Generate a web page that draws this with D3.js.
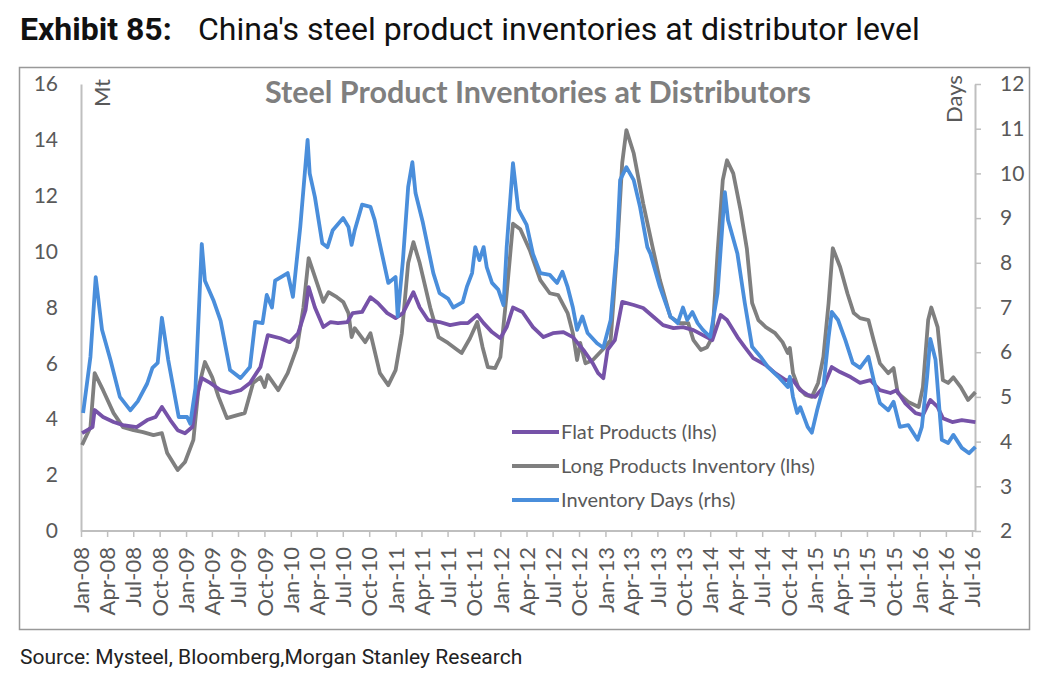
<!DOCTYPE html>
<html>
<head>
<meta charset="utf-8">
<script src="https://cdn.jsdelivr.net/npm/d3@7"></script>
<style>
  body { margin: 0; background: #fff; }
  svg text { font-family: Lato, "Open Sans", sans-serif; }
</style>
</head>
<body>
<svg id="chart" width="1048" height="682"></svg>
<script>
// time points are decimal years
var flatT = [2008.01,2008.11,2008.13,2008.21,2008.31,2008.40,2008.53,2008.63,2008.71,2008.77,2008.85,2008.92,2008.99,2009.06,2009.11,2009.15,2009.23,2009.33,2009.42,2009.52,2009.61,2009.71,2009.78,2009.90,2009.99,2010.07,2010.14,2010.17,2010.23,2010.31,2010.38,2010.45,2010.54,2010.59,2010.68,2010.76,2010.83,2010.92,2011.00,2011.07,2011.17,2011.23,2011.31,2011.42,2011.52,2011.62,2011.69,2011.78,2011.84,2011.92,2012.00,2012.06,2012.12,2012.21,2012.31,2012.41,2012.50,2012.60,2012.69,2012.79,2012.88,2012.93,2012.98,2013.02,2013.09,2013.16,2013.27,2013.36,2013.46,2013.55,2013.65,2013.74,2013.84,2013.93,2014.02,2014.10,2014.16,2014.26,2014.33,2014.41,2014.53,2014.62,2014.72,2014.79,2014.86,2014.93,2015.00,2015.08,2015.16,2015.24,2015.34,2015.43,2015.53,2015.62,2015.72,2015.78,2015.86,2015.96,2016.03,2016.10,2016.17,2016.22,2016.31,2016.40,2016.53];
var flatV = [3.5,3.72,4.33,4.08,3.9,3.79,3.72,3.97,4.08,4.44,3.97,3.61,3.5,3.72,4.94,5.47,5.3,5.04,4.94,5.04,5.3,5.87,7.01,6.9,6.76,7.08,7.9,8.73,8.0,7.3,7.48,7.44,7.48,7.8,7.84,8.37,8.16,7.8,7.62,7.8,8.55,8.0,7.55,7.48,7.37,7.44,7.44,7.73,7.44,7.12,6.9,7.3,8.0,7.84,7.3,6.94,7.08,7.12,6.94,6.48,6.0,5.65,5.47,6.48,6.83,8.2,8.09,7.98,7.66,7.37,7.26,7.3,7.19,7.01,6.83,7.73,7.55,6.94,6.58,6.19,5.94,5.65,5.4,5.4,5.04,4.87,4.8,5.15,5.87,5.69,5.51,5.3,5.4,5.04,4.94,5.04,4.58,4.22,4.15,4.69,4.44,4.04,3.9,3.97,3.9];

var longT = [2008.01,2008.09,2008.13,2008.21,2008.31,2008.40,2008.50,2008.59,2008.69,2008.77,2008.82,2008.92,2008.99,2009.07,2009.12,2009.18,2009.25,2009.31,2009.39,2009.49,2009.56,2009.64,2009.71,2009.75,2009.78,2009.88,2009.97,2010.06,2010.12,2010.17,2010.25,2010.31,2010.36,2010.44,2010.50,2010.55,2010.58,2010.61,2010.71,2010.76,2010.85,2010.93,2011.00,2011.06,2011.12,2011.17,2011.23,2011.33,2011.41,2011.50,2011.59,2011.63,2011.71,2011.78,2011.83,2011.88,2011.95,2012.00,2012.06,2012.12,2012.19,2012.28,2012.38,2012.47,2012.55,2012.64,2012.69,2012.73,2012.76,2012.81,2012.88,2012.97,2013.05,2013.11,2013.16,2013.20,2013.27,2013.36,2013.45,2013.52,2013.62,2013.71,2013.79,2013.84,2013.91,2013.97,2014.02,2014.07,2014.12,2014.16,2014.22,2014.29,2014.35,2014.40,2014.46,2014.53,2014.62,2014.69,2014.74,2014.76,2014.79,2014.84,2014.91,2014.97,2015.03,2015.08,2015.13,2015.17,2015.24,2015.31,2015.37,2015.43,2015.51,2015.56,2015.62,2015.70,2015.75,2015.79,2015.89,2015.99,2016.03,2016.08,2016.11,2016.17,2016.22,2016.27,2016.32,2016.39,2016.46,2016.53];
var longV = [3.08,3.72,5.65,5.04,4.22,3.72,3.61,3.54,3.43,3.5,2.79,2.18,2.47,3.26,5.15,6.05,5.5,4.8,4.04,4.15,4.22,5.3,5.5,5.15,5.58,5.04,5.65,6.58,8.0,9.77,8.87,8.2,8.55,8.37,8.2,7.8,6.94,7.26,6.76,7.08,5.65,5.22,5.76,7.08,9.59,10.34,9.59,8.0,6.94,6.73,6.48,6.37,6.9,7.48,6.58,5.87,5.83,6.23,8.5,11.0,10.8,10.05,8.98,8.51,8.44,7.8,7.08,6.12,6.73,6.0,6.12,6.48,6.83,9.95,13.17,14.35,13.52,11.73,10.16,8.98,7.66,7.44,7.44,6.83,6.48,6.58,6.94,9.95,12.56,13.27,12.8,11.48,10.1,8.16,7.55,7.3,7.08,6.76,6.37,6.55,5.65,5.15,4.87,4.8,5.3,6.23,8.16,10.12,9.45,8.5,7.8,7.62,7.55,6.83,6.0,5.65,5.83,4.94,4.62,4.44,5.15,7.55,8.0,7.3,5.4,5.3,5.5,5.15,4.69,4.97];

var daysT = [2008.02,2008.09,2008.14,2008.20,2008.28,2008.37,2008.47,2008.54,2008.63,2008.68,2008.73,2008.77,2008.83,2008.93,2009.01,2009.04,2009.09,2009.15,2009.18,2009.26,2009.33,2009.42,2009.52,2009.61,2009.66,2009.73,2009.77,2009.82,2009.85,2009.97,2010.02,2010.09,2010.16,2010.18,2010.23,2010.30,2010.35,2010.40,2010.50,2010.55,2010.58,2010.61,2010.68,2010.76,2010.80,2010.87,2010.93,2011.00,2011.02,2011.07,2011.12,2011.16,2011.19,2011.26,2011.36,2011.42,2011.50,2011.55,2011.64,2011.68,2011.73,2011.76,2011.80,2011.84,2011.87,2011.92,2011.98,2012.03,2012.06,2012.12,2012.17,2012.25,2012.31,2012.38,2012.47,2012.54,2012.59,2012.64,2012.69,2012.73,2012.78,2012.83,2012.92,2012.98,2013.05,2013.11,2013.14,2013.20,2013.27,2013.33,2013.40,2013.43,2013.52,2013.62,2013.69,2013.74,2013.78,2013.83,2013.88,2013.93,2014.00,2014.07,2014.12,2014.14,2014.17,2014.26,2014.33,2014.40,2014.48,2014.55,2014.65,2014.74,2014.76,2014.79,2014.83,2014.86,2014.93,2014.97,2015.02,2015.08,2015.13,2015.16,2015.22,2015.29,2015.36,2015.43,2015.51,2015.56,2015.62,2015.70,2015.75,2015.81,2015.89,2015.98,2016.02,2016.07,2016.10,2016.15,2016.21,2016.27,2016.32,2016.40,2016.47,2016.53];
var daysV = [4.64,5.9,7.68,6.5,5.83,5.0,4.7,4.9,5.3,5.65,5.76,6.77,5.83,4.55,4.55,4.4,5.2,8.42,7.6,7.17,6.7,5.6,5.42,5.67,6.68,6.65,7.28,7.0,7.6,7.77,7.24,8.8,10.75,10.0,9.47,8.44,8.35,8.73,9.0,8.8,8.4,8.73,9.3,9.25,8.96,8.2,7.55,7.68,6.8,8.06,9.7,10.25,9.56,8.9,7.77,7.32,7.2,7.0,7.12,7.46,7.77,8.35,8.06,8.35,7.9,7.55,7.4,7.05,8.35,10.23,9.2,8.85,8.2,7.77,7.73,7.55,7.8,7.46,7.0,6.5,6.8,6.43,6.2,6.1,6.72,8.35,9.85,10.14,9.85,9.25,8.35,8.2,7.46,6.8,6.65,7.0,6.72,6.9,6.65,6.5,6.34,7.32,8.96,9.58,8.96,8.2,7.1,6.12,5.9,5.67,5.45,5.22,5.45,5.0,4.64,4.77,4.33,4.2,4.7,5.22,6.34,6.9,6.72,6.27,5.76,5.65,5.9,5.38,4.86,4.7,4.89,4.33,4.37,4.04,4.33,5.45,6.3,5.83,4.04,3.97,4.15,3.86,3.74,3.88];

var leftTicks = [0,2,4,6,8,10,12,14,16];
var rightTicks = [2,3,4,5,6,7,8,9,10,11,12];
var legendNames = ["Flat Products (lhs)","Long Products Inventory (lhs)","Inventory Days (rhs)"];
var colors = {flat:"#7652a8", long:"#7f7f7f", days:"#4a8edb"};

(function(){
	var toDate = function(t){
		var y = Math.floor(t);
		var a = new Date(y,0,1), b = new Date(y+1,0,1);
		return new Date(+a + (t-y)*(b-a));
	};
	var zip = function(ts,vs){ return ts.map(function(t,i){ return {date:toDate(t), value:vs[i]}; }); };

	var svg = d3.select("#chart");
	var plotLeft = 81, plotRight = 972, plotTop = 84, plotBottom = 531, axisR = 975;

	var x = d3.scaleTime().domain([new Date(2008,0,1), new Date(2016,6,1)]).range([plotLeft,plotRight]);
	var yL = d3.scaleLinear().domain([0,16]).range([plotBottom,plotTop]);
	var yR = d3.scaleLinear().domain([2,12]).range([plotBottom,plotTop]);

	// header and source
	var head = svg.append("text").attr("x",20).attr("y",40)
		.style("font-family","Roboto, sans-serif").style("font-size","32px").style("fill","#111");
	head.append("tspan").style("font-weight","bold").text("Exhibit 85:");
	head.append("tspan").attr("x",198).text("China's steel product inventories at distributor level");

	svg.append("text").attr("x",20).attr("y",664)
		.style("font-family","Roboto, sans-serif").style("font-size","21px").style("fill","#222")
		.text("Source: Mysteel, Bloomberg,Morgan Stanley Research");

	// frame
	svg.append("rect").attr("x",19.5).attr("y",67.5).attr("width",1010).attr("height",562)
		.style("fill","none").style("stroke","#999").style("stroke-width",1.5);

	svg.append("text").attr("x",538).attr("y",103).attr("text-anchor","middle")
		.style("font-size","30.5px").style("font-weight","bold").style("fill","#7f7f7f")
		.text("Steel Product Inventories at Distributors");

	// left axis
	var gL = svg.append("g").attr("transform","translate("+plotLeft+",0)")
		.call(d3.axisLeft(yL).tickValues(leftTicks).tickSize(0).tickPadding(23));
	gL.select(".domain").style("stroke","#bfbfbf").style("stroke-width",2);
	gL.selectAll("text").style("font-size","21px").style("fill","#595959").style("font-family","Lato, sans-serif");

	// right axis
	var gR = svg.append("g").attr("transform","translate("+axisR+",0)")
		.call(d3.axisRight(yR).tickValues(rightTicks).tickSize(6).tickSizeOuter(0).tickPadding(19));
	gR.select(".domain").style("stroke","#bfbfbf").style("stroke-width",2);
	gR.selectAll("line").style("stroke","#bfbfbf").style("stroke-width",1.5);
	gR.selectAll("text").style("font-size","21px").style("fill","#595959").style("font-family","Lato, sans-serif");

	// bottom axis
	var gX = svg.append("g").attr("transform","translate(0,"+plotBottom+")")
		.call(d3.axisBottom(x).ticks(d3.timeMonth.every(3)).tickFormat(d3.timeFormat("%b-%y")).tickSize(6).tickSizeOuter(0));
	gX.select(".domain").attr("d","M"+plotLeft+",0H"+axisR).style("stroke","#bfbfbf").style("stroke-width",2);
	gX.selectAll("line").style("stroke","#bfbfbf").style("stroke-width",1.5);
	gX.selectAll("text")
		.attr("transform","rotate(-90)").attr("x",-16).attr("y",0).attr("dy","0.35em")
		.style("text-anchor","end").style("font-size","22px").style("fill","#595959").style("font-family","Lato, sans-serif");

	// unit labels
	svg.append("text").attr("transform","translate(110,93) rotate(-90)").attr("text-anchor","middle")
		.style("font-size","22px").style("fill","#595959").text("Mt");
	svg.append("text").attr("transform","translate(962,99) rotate(-90)").attr("text-anchor","middle")
		.style("font-size","22px").style("fill","#595959").text("Days");

	// series
	var lineL = d3.line().x(function(d){return x(d.date);}).y(function(d){return yL(d.value);});
	var lineR = d3.line().x(function(d){return x(d.date);}).y(function(d){return yR(d.value);});

	svg.append("path").datum(zip(longT,longV)).attr("d",lineL)
		.style("fill","none").style("stroke",colors.long).style("stroke-width",3.8).style("stroke-linejoin","round");
	svg.append("path").datum(zip(flatT,flatV)).attr("d",lineL)
		.style("fill","none").style("stroke",colors.flat).style("stroke-width",3.8).style("stroke-linejoin","round");
	svg.append("path").datum(zip(daysT,daysV)).attr("d",lineR)
		.style("fill","none").style("stroke",colors.days).style("stroke-width",3.8).style("stroke-linejoin","round");

	// legend
	var legColors = [colors.flat, colors.long, colors.days];
	var leg = svg.append("g").attr("transform","translate(512,432)");
	legendNames.forEach(function(name,i){
		var g = leg.append("g").attr("transform","translate(0,"+(i*34)+")");
		g.append("line").attr("x1",0).attr("x2",47).attr("y1",0).attr("y2",0)
			.style("stroke",legColors[i]).style("stroke-width",3.8);
		g.append("text").attr("x",49).attr("y",0).attr("dy","0.35em")
			.style("font-size","20px").style("fill","#595959").text(name);
	});
})();
</script>
</body>
</html>
